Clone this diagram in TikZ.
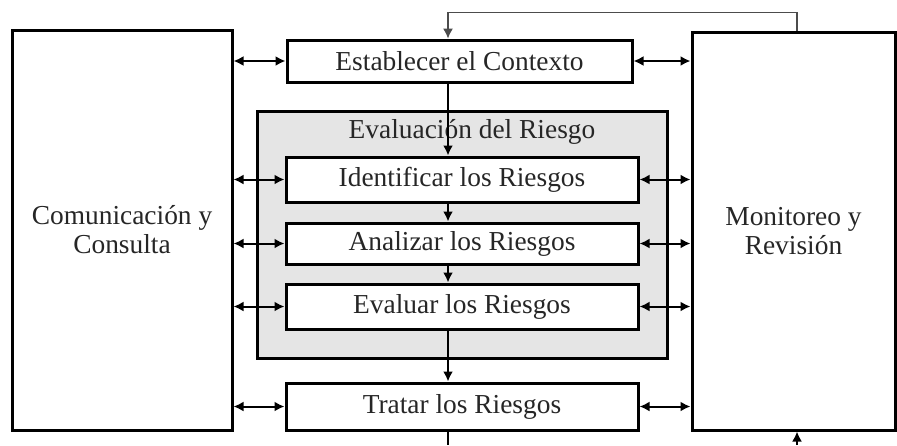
\documentclass[tikz,border=0pt]{standalone}
\usepackage{fontspec}
\setmainfont{Liberation Serif}
\usetikzlibrary{arrows.meta, positioning}

\begin{document}
\begin{tikzpicture}[x=0.5pt, y=-0.5pt]
	\tikzset{bigbox/.style={draw=black, fill=white, line width=1.5pt, align=center, text=black!85, font=\fontsize{13.7}{14.5}\selectfont}}
	\tikzset{stepbox/.style={draw=black, fill=white, line width=1.5pt, minimum width=176pt, text=black!85, font=\fontsize{13.7}{14.5}\selectfont}}
	\tikzset{flow/.style={-{Latex[length=5pt,width=5pt]}, line width=1pt}}
	\tikzset{dbl/.style={{Latex[length=5pt,width=5pt]}-{Latex[length=5pt,width=5pt]}, line width=1pt}}
		\useasboundingbox (0,0) rectangle (897,445);
		\coordinate (axis) at (448,0);
		\coordinate (outA) at (448,445);
		\coordinate (outB) at (797,445);
		\node[bigbox, minimum width=110pt, minimum height=200pt] (com) at (122,230) {Comunicación y\\Consulta};
		\node[bigbox, minimum width=101.5pt, minimum height=199pt] (mon) at (793.5,231) {Monitoreo y\\Revisión};
		\node[draw=black, fill=gray!20, line width=1.5pt, minimum width=205pt, minimum height=123.5pt] (evalbox) at (462,234.5) {};
		\node[text=black!85, font=\fontsize{13.7}{14.5}\selectfont] (evaltitle) at (472,132) {Evaluación del Riesgo};
		\node[stepbox, minimum width=172.5pt, minimum height=21pt] (est) at (459.5,61) {Establecer el Contexto};
		\foreach \name/\y/\h/\tag in {ident/179.5/22.5/Identificar los Riesgos, anal/243.5/20.5/Analizar los Riesgos, evalr/306.5/22.5/Evaluar los Riesgos, trat/406.5/23.5/Tratar los Riesgos}
		{\node[stepbox, minimum height=\h pt] (\name) at (462,\y) {\tag};}
		\foreach \name in {est, ident, anal, evalr, trat}
		{\draw[dbl] (com.east |- \name.west) -- (\name.west);
		 \draw[dbl] (\name.east) -- (\name.east -| mon.west);}
		\draw[flow] (est.south -| axis) -- (ident.north -| axis);
		\draw[flow] (ident.south -| axis) -- (anal.north -| axis);
		\draw[flow] (anal.south -| axis) -- (evalr.north -| axis);
		\draw[flow] (evalr.south -| axis) -- (trat.north -| axis);
		\draw[line width=1pt] (trat.south -| axis) -- (outA);
		\draw[flow] (outB) -- (outB |- mon.south);
		% feedback
		\draw[-{Latex[length=5pt,width=5pt]}, line width=0.6pt, black!70] (outB |- mon.north) -- ++(0,-18) -| (est.north -| axis);
\end{tikzpicture}
\end{document}
